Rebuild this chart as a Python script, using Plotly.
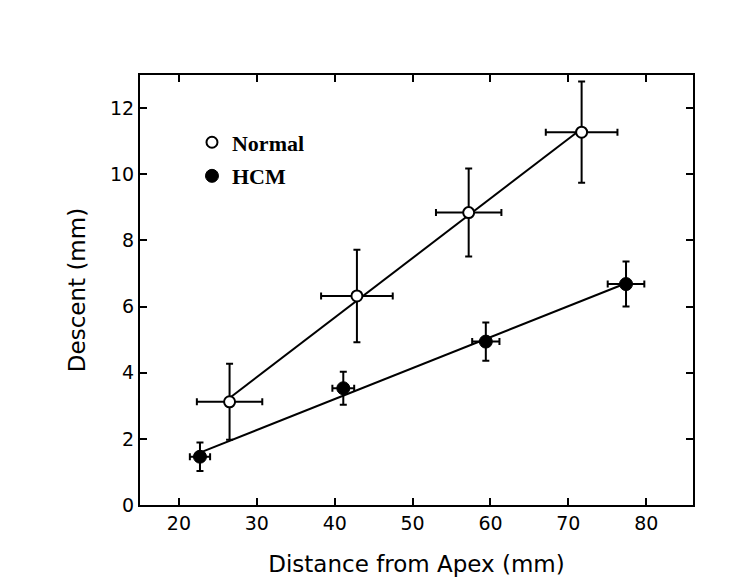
import numpy as np
import plotly.graph_objects as go

# Normal group
normal_x = [26.5, 42.85, 57.2, 71.7]
normal_y = [3.12, 6.32, 8.84, 11.27]
normal_xerr = [4.2, 4.6, 4.2, 4.6]
normal_yerr = [1.15, 1.4, 1.33, 1.53]

# HCM group
hcm_x = [22.7, 41.1, 59.4, 77.4]
hcm_y = [1.46, 3.53, 4.94, 6.68]
hcm_xerr = [1.3, 1.4, 1.75, 2.35]
hcm_yerr = [0.43, 0.5, 0.58, 0.68]

x_ticks = [20, 30, 40, 50, 60, 70, 80]
y_ticks = [0, 2, 4, 6, 8, 10, 12]

def fit_line(x, y):
    m, b = np.polyfit(x, y, 1)
    xs = np.array([min(x), max(x)])
    return xs, m * xs + b

fig = go.Figure()

for xs_, ys_ in (fit_line(normal_x, normal_y), fit_line(hcm_x, hcm_y)):
    fig.add_trace(go.Scatter(x=xs_, y=ys_, mode="lines",
                             line=dict(color="black", width=2),
                             showlegend=False, hoverinfo="skip"))

err_style = dict(color="black", thickness=2, width=3.5)

fig.add_trace(go.Scatter(
    x=normal_x, y=normal_y, mode="markers", name="Normal", legendgroup="n",
    marker=dict(symbol="circle", size=11, color="white",
                line=dict(color="black", width=2)),
    error_x=dict(type="data", array=normal_xerr, **err_style),
    error_y=dict(type="data", array=normal_yerr, **err_style),
))
fig.add_trace(go.Scatter(
    x=hcm_x, y=hcm_y, mode="markers", name="HCM", legendgroup="h",
    marker=dict(symbol="circle", size=13, color="black",
                line=dict(color="black", width=1)),
    error_x=dict(type="data", array=hcm_xerr, **err_style),
    error_y=dict(type="data", array=hcm_yerr, **err_style),
))

axis_common = dict(
    showline=True, linecolor="black", linewidth=2, mirror="ticks",
    ticks="inside", ticklen=7, tickwidth=2, tickcolor="black",
    showgrid=False, zeroline=False,
    tickfont=dict(family="DejaVu Sans, Arial, sans-serif", size=19, color="black"),
    title_font=dict(family="DejaVu Sans, Arial, sans-serif", size=23, color="black"),
)

fig.update_xaxes(range=[15, 86], tickvals=x_ticks,
                 title_text="Distance from Apex (mm)", title_standoff=23,
                 **axis_common)
fig.update_yaxes(range=[0, 13], tickvals=y_ticks,
                 title_text="Descent (mm)", title_standoff=18,
                 **axis_common)

fig.update_layout(
    width=750, height=585,
    margin=dict(l=132, r=65, t=67, b=88),
    paper_bgcolor="white", plot_bgcolor="white",
    legend=dict(x=0.094, y=0.892, xanchor="left", yanchor="top",
                bgcolor="rgba(0,0,0,0)",
                traceorder="grouped", tracegroupgap=2,
                font=dict(family="Liberation Serif, Times New Roman, serif",
                          size=22, color="black", weight="bold"),
                itemwidth=30),
)

fig.write_html("out.html")
